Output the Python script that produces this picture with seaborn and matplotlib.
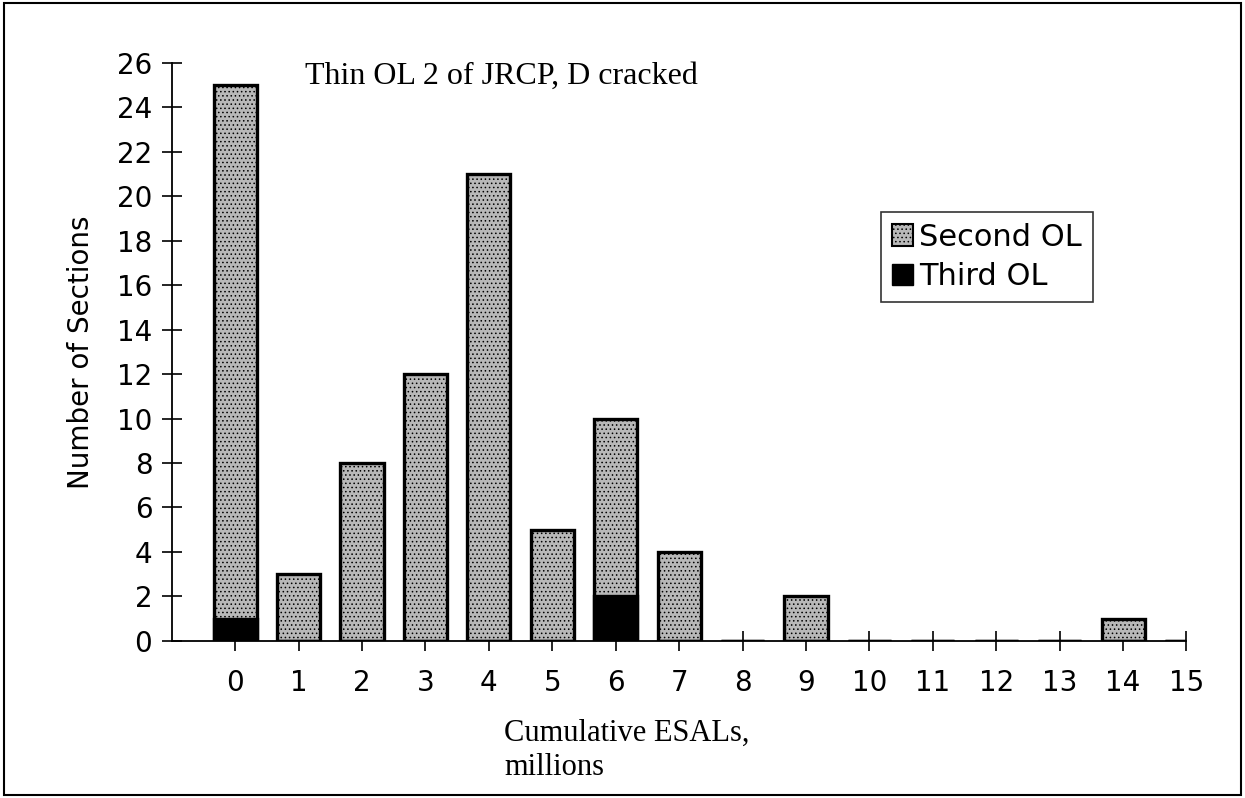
import pandas as pd
import seaborn as sns
import matplotlib.pyplot as plt
from matplotlib import font_manager
from matplotlib.patches import Patch, Rectangle

# values
esals = list(range(16))
second_ol = [24, 3, 8, 12, 21, 5, 8, 4, 0, 2, 0, 0, 0, 0, 1, 0]
third_ol = [1, 0, 0, 0, 0, 0, 2, 0, 0, 0, 0, 0, 0, 0, 0, 0]
y_ticks = list(range(0, 27, 2))

df = pd.DataFrame({"ESAL": esals, "Second": second_ol, "Third": third_ol})
df["Total"] = df["Second"] + df["Third"]

sns.set_style("white")
plt.rcParams["font.family"] = ["DejaVu Sans"]
plt.rcParams["text.color"] = "black"
plt.rcParams["axes.labelcolor"] = "black"
plt.rcParams["hatch.color"] = "#6e6e6e"
plt.rcParams["hatch.linewidth"] = 0.6

# narrow font for the y label if there is one
installed = {f.name for f in font_manager.fontManager.ttflist}
if "Liberation Sans Narrow" in installed:
    ylab_font, ylab_size = "Liberation Sans Narrow", 23
else:
    ylab_font, ylab_size = "DejaVu Sans", 20

fig = plt.figure(figsize=(12.45, 7.98), dpi=100)
ax = fig.add_axes([0.138, 0.197, 0.815, 0.724])

gray = "#b8b8b8"
sns.barplot(data=df, x="ESAL", y="Total", order=esals, color=gray,
            width=0.68, edgecolor="black", linewidth=2.4, saturation=1,
            hatch="....", ax=ax)
sns.barplot(data=df, x="ESAL", y="Third", order=esals, color="black",
            width=0.68, edgecolor="black", linewidth=2.4, saturation=1, ax=ax)

ax.set_xlim(-1, 15)
ax.set_ylim(0, 26)
ax.set_yticks(y_ticks)
ax.set_xticks(esals)
ax.set_xticklabels([str(e) for e in esals])

for side in ["top", "right"]:
    ax.spines[side].set_visible(False)
for side in ["left", "bottom"]:
    ax.spines[side].set_color("black")
    ax.spines[side].set_linewidth(1.3)
ax.tick_params(axis="both", direction="inout", length=14, width=1.2,
               labelsize=20, colors="black", bottom=True, left=True)
ax.tick_params(axis="x", pad=13)
ax.tick_params(axis="y", pad=7)

ax.set_xlabel("")
ax.set_ylabel("Number of Sections", fontsize=ylab_size, family=ylab_font,
              labelpad=16)

ax.text(0.131, 0.977, "Thin OL 2 of JRCP, D cracked", transform=ax.transAxes,
        fontsize=23, family="Liberation Serif", va="center", ha="left")
fig.text(0.405, 0.099, "Cumulative ESALs,\nmillions", fontsize=22,
         family="Liberation Serif", ha="left", va="top", linespacing=1.25)

handles = [Patch(facecolor=gray, edgecolor="black", hatch="....", linewidth=1.5),
           Patch(facecolor="black", edgecolor="black")]
leg = ax.legend(handles, ["Second OL", "Third OL"], loc="upper left",
                bbox_to_anchor=(0.699, 0.742), fontsize=22, frameon=True,
                fancybox=False, edgecolor="black", handlelength=0.7,
                handleheight=0.7, handletextpad=0.2, borderpad=0.35,
                labelspacing=0.35, borderaxespad=0)
leg.get_frame().set_linewidth(1.2)

fig.patches.append(Rectangle((0.003, 0.004), 0.994, 0.992, transform=fig.transFigure,
                             fill=False, edgecolor="black", linewidth=1.5))

fig.savefig("out.png", dpi=100)
